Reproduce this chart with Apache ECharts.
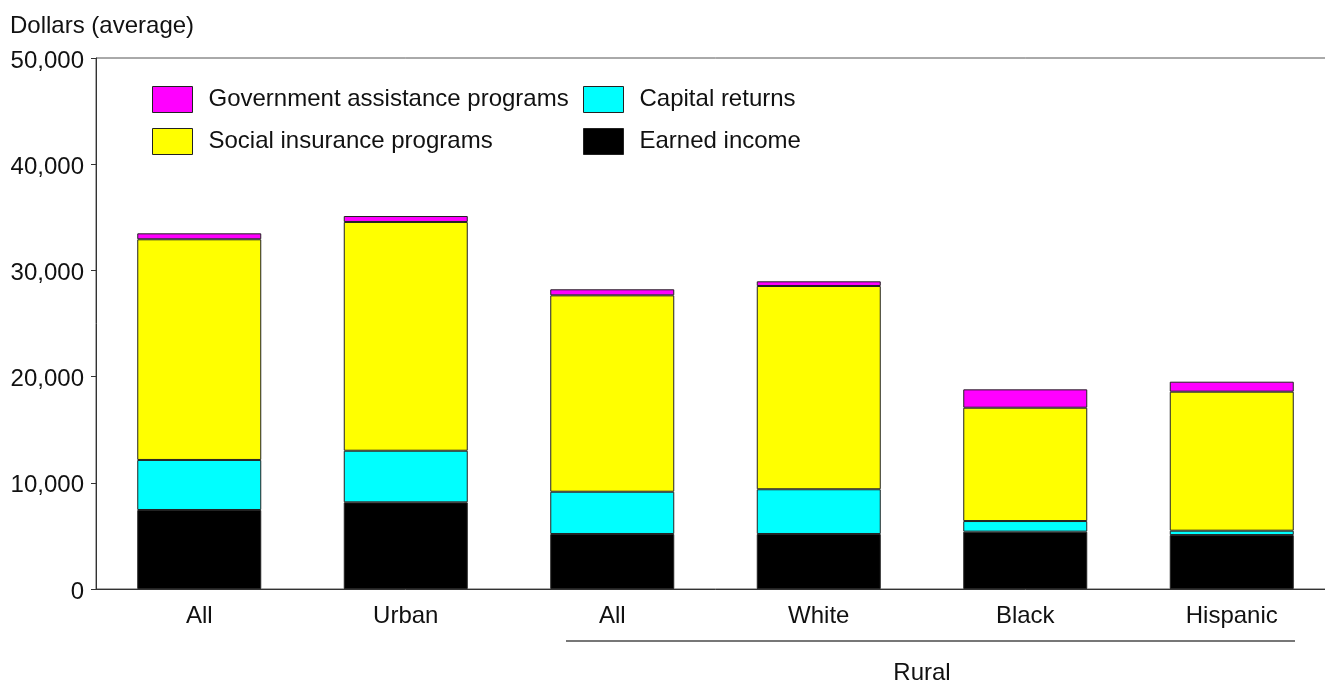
<!DOCTYPE html>
<html>
<head>
<meta charset="utf-8">
<script src="https://cdn.jsdelivr.net/npm/echarts@6/dist/echarts.min.js"></script>
<style>
html,body{margin:0;padding:0;background:#fff;overflow:hidden;}
#chart{width:1335px;height:681px;}
</style>
</head>
<body>
<div id="chart"></div>
<script>
const categories = ["All", "Urban", "All", "White", "Black", "Hispanic"];
const earnedIncome = [7440, 8160, 5180, 5180, 5400, 5080];
const capitalReturns = [4710, 4860, 3980, 4210, 1000, 410];
const socialInsurance = [20780, 21540, 18490, 19140, 10670, 13090];
const governmentAssistance = [560, 560, 570, 440, 1730, 940];
const yTicks = [0, 10000, 20000, 30000, 40000, 50000];

const FONT = "'Liberation Sans', Arial, sans-serif";
const FS = 24;
const chart = echarts.init(document.getElementById('chart'), null, {renderer: 'canvas'});

function mkSeries(name, data, color) {
  return {
    name: name, type: 'bar', stack: 'total', data: data, barWidth: 124,
    itemStyle: {color: color, borderColor: '#222', borderWidth: 1},
    emphasis: {disabled: true}, animation: false
  };
}
function mkLegend(name, left, top) {
  return {
    data: [name], left: left, top: top, itemWidth: 40, itemHeight: 26, padding: 0,
    selectedMode: false, icon: 'rect',
    itemStyle: {borderColor: '#222', borderWidth: 1},
    textStyle: {fontFamily: FONT, fontSize: FS, color: '#111', padding: [3, 0, 0, 11]}
  };
}

chart.setOption({
  animation: false,
  backgroundColor: '#fff',
  grid: {left: 96, top: 58, right: 0, bottom: 92, show: true, borderColor: '#555', borderWidth: 1, containLabel: false},
  legend: [
    mkLegend('Government assistance programs', 152, 86),
    mkLegend('Capital returns', 583, 86),
    mkLegend('Social insurance programs', 152, 128),
    mkLegend('Earned income', 583, 128)
  ],
  xAxis: {
    type: 'category', data: categories,
    axisLine: {show: true, lineStyle: {color: '#333', width: 1}},
    axisTick: {show: false},
    axisLabel: {fontFamily: FONT, fontSize: FS, color: '#111', margin: 15}
  },
  yAxis: {
    type: 'value', min: yTicks[0], max: yTicks[yTicks.length - 1], interval: 10000,
    axisLine: {show: true, lineStyle: {color: '#333', width: 1}},
    axisTick: {show: true, length: 5, lineStyle: {color: '#333'}},
    splitLine: {show: false},
    axisLabel: {fontFamily: FONT, fontSize: FS, color: '#111', margin: 12,
      formatter: v => '{a|' + v.toLocaleString('en-US') + '}',
      rich: {a: {fontFamily: FONT, fontSize: FS, color: '#111', padding: [6, 0, 0, 0]}}}
  },
  series: [
    mkSeries('Earned income', earnedIncome, '#000000'),
    mkSeries('Capital returns', capitalReturns, '#00ffff'),
    mkSeries('Social insurance programs', socialInsurance, '#ffff00'),
    mkSeries('Government assistance programs', governmentAssistance, '#ff00ff')
  ],
  graphic: [
    {type: 'text', left: 10, top: 14, style: {text: 'Dollars (average)', font: FS + 'px ' + FONT, fill: '#111'}},
    {type: 'line', shape: {x1: 566, y1: 641, x2: 1295, y2: 641}, style: {stroke: '#777', lineWidth: 2}},
    {type: 'text', x: 922, y: 673, style: {text: 'Rural', font: FS + 'px ' + FONT, fill: '#111', align: 'center', verticalAlign: 'middle'}}
  ]
});
</script>
</body>
</html>
